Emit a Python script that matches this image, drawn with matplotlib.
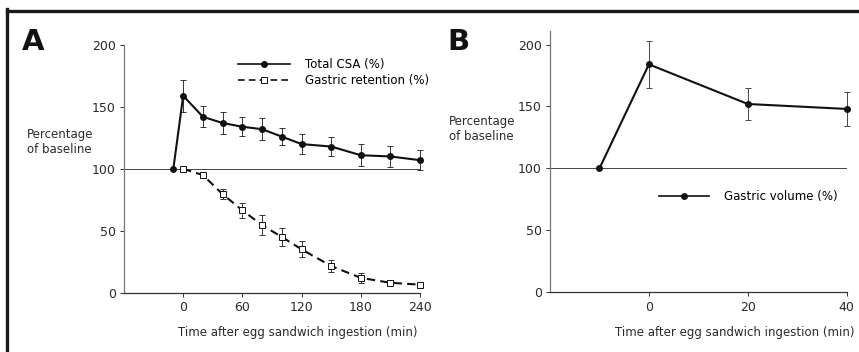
import matplotlib
matplotlib.use("Agg")
import matplotlib.pyplot as plt
from matplotlib.lines import Line2D

# ---- data ----
time_a = [-10, 0, 20, 40, 60, 80, 100, 120, 150, 180, 210, 240]
csa = [100, 159, 142, 137, 134, 132, 126, 120, 118, 111, 110, 107]
csa_err = [0, 13, 8.5, 9, 7.5, 9, 7, 8, 8, 9, 8.5, 8]
time_r = [0, 20, 40, 60, 80, 100, 120, 150, 180, 210, 240]
retention = [100, 95, 79.5, 66.5, 54.5, 45, 35, 21.5, 12, 8, 6.5]
ret_err = [0, 1, 4, 6, 8, 7, 6.5, 5, 4, 2, 1]
time_b = [-10, 0, 20, 40]
volume = [100, 184, 152, 148]
vol_err = [0, 19, 13, 13.5]

xticks_a = [0, 60, 120, 180, 240]
xticks_b = [0, 20, 40]
yticks = [0, 50, 100, 150, 200]
xlabel = "Time after egg sandwich ingestion (min)"
ylabel = "Percentage\nof baseline"

plt.rcParams['font.family'] = ['DejaVu Sans']
FS = 8.5
TFS = 9

W, H = 859, 352
fig = plt.figure(figsize=(W / 100, H / 100), dpi=100)

def fx(px):
    return px / W

def fy(py):
    return 1 - py / H

# frame lines (top and left)
fig.add_artist(Line2D([fx(7), 1], [fy(10.5), fy(10.5)], color='#1a1a1a', lw=2.4, transform=fig.transFigure))
fig.add_artist(Line2D([fx(7), fx(7)], [fy(9.3), 0], color='#1a1a1a', lw=2.4, transform=fig.transFigure))

def style(ax):
    for s in ['top', 'right']:
        ax.spines[s].set_visible(False)
    ax.spines['left'].set_color('#777777')
    ax.spines['left'].set_linewidth(0.9)
    ax.spines['bottom'].set_color('#333333')
    ax.spines['bottom'].set_linewidth(0.9)
    ax.tick_params(direction='out', length=3, width=0.7, labelsize=TFS, colors='#333333', labelcolor='#2a2a2a', pad=3)

# ---- Panel A ----
axA = fig.add_axes([fx(124), fy(292.7), fx(420) - fx(124), fy(45) - fy(292.7)])
style(axA)
axA.set_xlim(-60, 240)
axA.set_ylim(0, 200)
axA.set_xticks(xticks_a)
axA.set_yticks(yticks)
axA.plot([-60, 240], [100, 100], color='#444444', lw=0.7, zorder=1)
axA.errorbar(time_a, csa, yerr=csa_err, color='#111111', lw=1.5, marker='o', ms=4,
             mfc='#111111', mec='#111111', ecolor='#333333', elinewidth=0.7, capsize=2.2,
             capthick=0.7, label='Total CSA (%)', zorder=3, clip_on=False)
axA.errorbar(time_r, retention, yerr=ret_err, color='#111111', lw=1.5, ls=(0, (4, 2.5)),
             marker='s', ms=4.5, mfc='white', mec='#111111', mew=0.7, ecolor='#333333',
             elinewidth=0.7, capsize=2.2, capthick=0.7, label='Gastric retention (%)',
             zorder=3, clip_on=False)
hA = [Line2D([], [], color='#111111', lw=1.2, marker='o', ms=4, mfc='#111111'),
      Line2D([], [], color='#111111', lw=1.2, ls=(0, (4, 2.5)), marker='s', ms=4, mfc='white', mew=0.7)]
axA.legend(hA, ['Total CSA (%)', 'Gastric retention (%)'], loc='upper left',
           bbox_to_anchor=(fx(238), fy(58)), bbox_transform=fig.transFigure,
           frameon=False, fontsize=FS, handlelength=4.4, handletextpad=1.3,
           labelspacing=0.25, borderpad=0, borderaxespad=0)
axA.set_xlabel(xlabel, fontsize=FS, color='#2a2a2a')
axA.xaxis.set_label_coords(0.588, -0.134)
fig.text(fx(27), fy(142), ylabel, fontsize=FS, color='#2a2a2a', ha='left', va='center', linespacing=1.15)
fig.text(fx(22), fy(50), 'A', fontsize=21, fontweight='bold', ha='left', va='baseline', color='#111111')

# ---- Panel B ----
axB = fig.add_axes([fx(550), fy(292.3), fx(846.7) - fx(550), fy(30.9) - fy(292.3)])
style(axB)
axB.set_xlim(-20, 40)
axB.set_ylim(0, 211)
axB.set_xticks(xticks_b)
axB.set_yticks(yticks)
axB.plot([-20, 40], [100, 100], color='#444444', lw=0.7, zorder=1)
axB.errorbar(time_b, volume, yerr=vol_err, color='#111111', lw=1.5, marker='o', ms=4,
             mfc='#111111', mec='#111111', ecolor='#444444', elinewidth=0.7, capsize=2.2,
             capthick=0.7, zorder=3, clip_on=False)
hB = [Line2D([], [], color='#111111', lw=1.2, marker='o', ms=4, mfc='#111111')]
axB.legend(hB, ['Gastric volume (%)'], loc='upper left',
           bbox_to_anchor=(fx(659), fy(190)), bbox_transform=fig.transFigure,
           frameon=False, fontsize=FS, handlelength=4.2, handletextpad=1.3,
           borderpad=0, borderaxespad=0)
axB.set_xlabel(xlabel, fontsize=FS, color='#2a2a2a')
axB.xaxis.set_label_coords(0.623, -0.129)
fig.text(fx(449), fy(129), ylabel, fontsize=FS, color='#2a2a2a', ha='left', va='center', linespacing=1.15)
fig.text(fx(447), fy(50), 'B', fontsize=21, fontweight='bold', ha='left', va='baseline', color='#111111')

fig.savefig('out.png', dpi=100)
